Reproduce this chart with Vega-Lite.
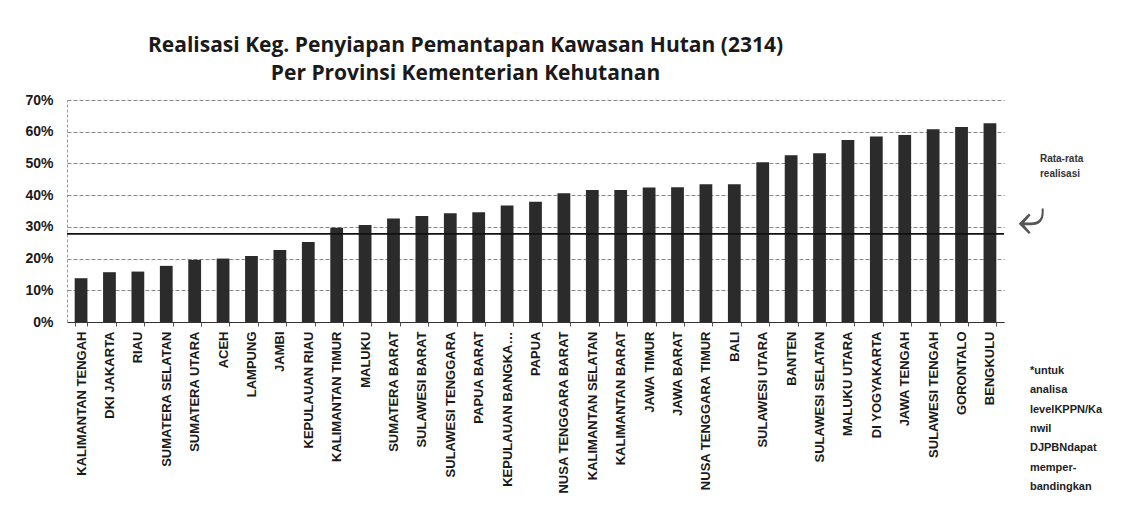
{
  "$schema": "https://vega.github.io/schema/vega-lite/v6.json",
  "autosize": "none",
  "width": 937,
  "height": 222,
  "padding": {"left": 67, "top": 100, "right": 144, "bottom": 194},
  "background": "white",
  "config": {"view": {"stroke": null}, "font": "Liberation Sans"},
  "title": {
    "text": ["Realisasi Keg. Penyiapan Pemantapan Kawasan Hutan (2314)", "Per Provinsi Kementerian Kehutanan"],
    "font": "Open Sans",
    "fontSize": 21,
    "fontWeight": "bold",
    "color": "#1a1a1a",
    "anchor": "middle",
    "dx": -70,
    "offset": 9,
    "lineHeight": 28
  },
  "datasets": {
    "bars": [
      {"provinsi": "KALIMANTAN TENGAH", "realisasi": 0.138},
      {"provinsi": "DKI JAKARTA", "realisasi": 0.157},
      {"provinsi": "RIAU", "realisasi": 0.159},
      {"provinsi": "SUMATERA SELATAN", "realisasi": 0.177},
      {"provinsi": "SUMATERA UTARA", "realisasi": 0.196},
      {"provinsi": "ACEH", "realisasi": 0.200},
      {"provinsi": "LAMPUNG", "realisasi": 0.208},
      {"provinsi": "JAMBI", "realisasi": 0.227},
      {"provinsi": "KEPULAUAN RIAU", "realisasi": 0.252},
      {"provinsi": "KALIMANTAN TIMUR", "realisasi": 0.297},
      {"provinsi": "MALUKU", "realisasi": 0.306},
      {"provinsi": "SUMATERA BARAT", "realisasi": 0.326},
      {"provinsi": "SULAWESI BARAT", "realisasi": 0.334},
      {"provinsi": "SULAWESI TENGGARA", "realisasi": 0.343},
      {"provinsi": "PAPUA BARAT", "realisasi": 0.346},
      {"provinsi": "KEPULAUAN BANGKA…", "realisasi": 0.367},
      {"provinsi": "PAPUA", "realisasi": 0.379},
      {"provinsi": "NUSA TENGGARA BARAT", "realisasi": 0.406},
      {"provinsi": "KALIMANTAN SELATAN", "realisasi": 0.416},
      {"provinsi": "KALIMANTAN BARAT", "realisasi": 0.416},
      {"provinsi": "JAWA TIMUR", "realisasi": 0.424},
      {"provinsi": "JAWA BARAT", "realisasi": 0.425},
      {"provinsi": "NUSA TENGGARA TIMUR", "realisasi": 0.434},
      {"provinsi": "BALI", "realisasi": 0.434},
      {"provinsi": "SULAWESI UTARA", "realisasi": 0.504},
      {"provinsi": "BANTEN", "realisasi": 0.526},
      {"provinsi": "SULAWESI SELATAN", "realisasi": 0.532},
      {"provinsi": "MALUKU UTARA", "realisasi": 0.574},
      {"provinsi": "DI YOGYAKARTA", "realisasi": 0.585},
      {"provinsi": "JAWA TENGAH", "realisasi": 0.590},
      {"provinsi": "SULAWESI TENGAH", "realisasi": 0.608},
      {"provinsi": "GORONTALO", "realisasi": 0.615},
      {"provinsi": "BENGKULU", "realisasi": 0.627}
    ],
    "avg": [{"rata": 0.278, "label": ["Rata-rata", "realisasi"], "at": "BENGKULU"}],
    "note": [{"at": "BENGKULU", "text": ["*untuk", "analisa", "levelKPPN/Ka", "nwil", "DJPBNdapat", "memper-", "bandingkan"]}]
  },
  "layer": [
    {
      "data": {"name": "bars"},
      "mark": {"type": "bar", "color": "#2b2b2b"},
      "encoding": {
        "x": {
          "field": "provinsi", "type": "nominal", "sort": null,
          "scale": {"paddingInner": 0.55, "paddingOuter": 0.27},
          "axis": {
            "title": null, "labelAngle": -90, "labelFontSize": 13, "labelFontWeight": "bold", "labelColor": "#1a1a1a",
            "labelFont": "Liberation Sans", "labelPadding": 5, "tickBand": "extent",
            "tickSize": 4, "domainColor": "#333", "tickColor": "#555", "labelLimit": 220
          }
        },
        "y": {
          "field": "realisasi", "type": "quantitative",
          "scale": {"domain": [0, 0.7], "nice": false},
          "axis": {
            "title": null, "format": ".0%", "values": [0, 0.1, 0.2, 0.3, 0.4, 0.5, 0.6, 0.7],
            "tickCount": 20,
            "labelFontSize": 14, "labelFontWeight": "bold", "labelColor": "#1a1a1a",
            "labelPadding": 14, "ticks": false, "domainColor": "#999", "domainDash": [3, 2],
            "gridColor": "#888", "gridDash": [4, 2], "gridWidth": 1
          }
        }
      }
    },
    {
      "data": {"name": "avg"},
      "mark": {"type": "rule", "color": "#111", "strokeWidth": 1.6},
      "encoding": {"y": {"field": "rata", "type": "quantitative"}}
    },
    {
      "data": {"name": "avg"},
      "mark": {"type": "text", "align": "left", "baseline": "top", "dx": 50, "fontSize": 10, "fontWeight": "bold", "color": "#333", "lineHeight": 15},
      "encoding": {
        "x": {"field": "at", "type": "nominal", "sort": null},
        "y": {"datum": 0.53},
        "text": {"field": "label"}
      }
    },
    {
      "data": {"name": "avg"},
      "mark": {"type": "text", "align": "left", "baseline": "middle", "dx": 28, "dy": -16, "fontSize": 50, "font": "DejaVu Sans", "color": "#555", "text": "⤶"},
      "encoding": {
        "x": {"field": "at", "type": "nominal", "sort": null},
        "y": {"field": "rata", "type": "quantitative"}
      }
    },
    {
      "data": {"name": "note"},
      "mark": {"type": "text", "align": "left", "baseline": "middle", "dx": 40, "dy": 49, "fontSize": 11, "fontWeight": "bold", "color": "#222", "lineHeight": 19.3},
      "encoding": {
        "x": {"field": "at", "type": "nominal", "sort": null},
        "y": {"datum": 0},
        "text": {"field": "text"}
      }
    }
  ]
}
